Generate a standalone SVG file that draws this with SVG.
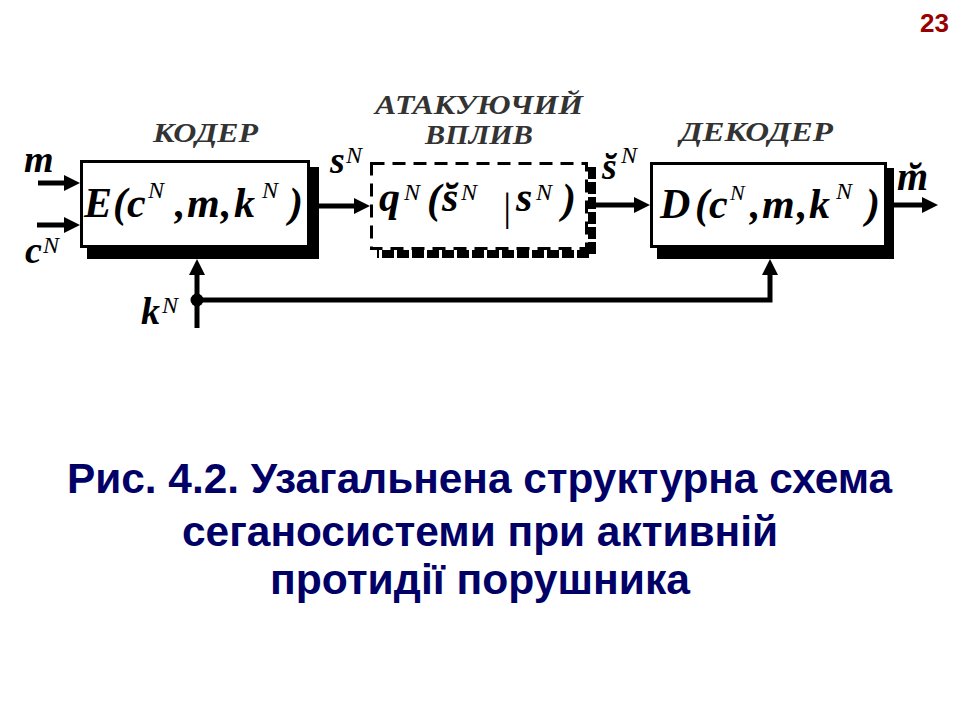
<svg xmlns="http://www.w3.org/2000/svg" width="960" height="720" viewBox="0 0 960 720">
<style>
.bg{fill:#fff}
.box{fill:#fff;stroke:#000;stroke-width:3}
.shadow{fill:#000}
.dbox{fill:#fff;stroke:#000;stroke-width:3;stroke-dasharray:13 8}
.dshadow{fill:none;stroke:#000;stroke-width:8;stroke-dasharray:12 3}
.wire{fill:none;stroke:#000;stroke-width:5}
.math{font-family:"Liberation Serif","Times New Roman",serif;font-style:italic;font-weight:bold;fill:#000}
.sup{font-family:"Liberation Serif","Times New Roman",serif;font-style:italic;font-weight:normal;fill:#000}
.blk{font-family:"Liberation Serif","Times New Roman",serif;font-style:italic;font-weight:bold;fill:#333;font-size:27px}
.title{font-family:"Liberation Sans",Arial,sans-serif;font-weight:bold;fill:#000066;font-size:42px}
.page{font-family:"Liberation Sans",Arial,sans-serif;font-weight:bold;fill:#990000;font-size:26px}
</style>
<defs>
<marker id="ah" markerUnits="userSpaceOnUse" markerWidth="16" markerHeight="16" refX="3" refY="8" orient="auto">
<path d="M0,0 L16,8 L0,16 z" fill="#000"/>
</marker>
</defs>
<rect class="bg" x="0" y="0" width="960" height="720"/>
<text class="page" x="949" y="32" text-anchor="end">23</text>

<g id="encoder">
<rect class="shadow" x="87" y="167" width="232" height="92"/>
<rect class="box" x="81.5" y="161.5" width="227" height="85"/>
<text class="blk" x="153" y="142" textLength="105" lengthAdjust="spacingAndGlyphs">КОДЕР</text>
<text class="math" font-size="42" y="217"><tspan x="84">E</tspan><tspan x="113">(</tspan><tspan x="127">c</tspan></text>
<text class="sup" font-size="24" x="148" y="198">N</text>
<text class="math" font-size="42" y="217"><tspan x="175">,</tspan><tspan x="187">m</tspan><tspan x="221">,</tspan><tspan x="234">k</tspan></text>
<text class="sup" font-size="24" x="262" y="198">N</text>
<text class="math" font-size="42" x="289" y="217">)</text>
</g>

<g id="attack">
<path class="dshadow" d="M592,167 L592,254 L377,254"/>
<rect class="dbox" x="371.5" y="163.5" width="215" height="85"/>
<text class="blk" x="375" y="114" textLength="208" lengthAdjust="spacingAndGlyphs">АТАКУЮЧИЙ</text>
<text class="blk" x="425" y="144" textLength="108" lengthAdjust="spacingAndGlyphs">ВПЛИВ</text>
<text class="math" font-size="42" x="379" y="211">q</text>
<text class="sup" font-size="24" x="404" y="200">N</text>
<text class="math" font-size="42" x="427" y="213">(</text>
<text class="math" font-size="42" x="442" y="211">s̆</text>
<text class="sup" font-size="24" x="461" y="200">N</text>
<text class="sup" font-size="40" x="501" y="220">|</text>
<text class="math" font-size="42" x="516" y="211">s</text>
<text class="sup" font-size="24" x="536" y="200">N</text>
<text class="math" font-size="42" x="562" y="213">)</text>
</g>

<g id="decoder">
<rect class="shadow" x="657" y="168" width="237" height="91"/>
<rect class="box" x="651.5" y="163.5" width="234" height="83"/>
<text class="blk" x="680" y="141" textLength="153" lengthAdjust="spacingAndGlyphs">ДЕКОДЕР</text>
<text class="math" font-size="42" y="218"><tspan x="660">D</tspan><tspan x="695">(</tspan><tspan x="709">c</tspan></text>
<text class="sup" font-size="22" x="730" y="200">N</text>
<text class="math" font-size="42" y="218"><tspan x="750">,</tspan><tspan x="762">m</tspan><tspan x="797">,</tspan><tspan x="809">k</tspan></text>
<text class="sup" font-size="24" x="836" y="199">N</text>
<text class="math" font-size="42" x="866" y="218">)</text>
</g>

<g id="connectors">
<line class="wire" x1="38" y1="183" x2="67" y2="183" marker-end="url(#ah)"/>
<line class="wire" x1="37" y1="225" x2="67" y2="225" marker-end="url(#ah)"/>
<line class="wire" x1="319" y1="206" x2="357" y2="206" marker-end="url(#ah)"/>
<line class="wire" x1="596" y1="205" x2="637" y2="205" marker-end="url(#ah)"/>
<line class="wire" x1="894" y1="205" x2="925" y2="205" marker-end="url(#ah)"/>
<line class="wire" x1="197" y1="328" x2="197" y2="272" marker-end="url(#ah)"/>
<polyline class="wire" points="197,300 770,300 770,272" marker-end="url(#ah)"/>
<circle cx="197" cy="300" r="6.5" fill="#000"/>
</g>

<g id="signal-labels">
<text class="math" font-size="38" x="24" y="172">m</text>
<text class="math" font-size="38" x="25" y="263">c</text>
<text class="sup" font-size="24" x="43" y="253">N</text>
<text class="math" font-size="38" x="330" y="173">s</text>
<text class="sup" font-size="24" x="346" y="163">N</text>
<text class="math" font-size="38" x="602" y="179">s̆</text>
<text class="sup" font-size="24" x="621" y="163">N</text>
<text class="math" font-size="40" x="897" y="190">m̆</text>
<text class="math" font-size="38" x="141" y="324">k</text>
<text class="sup" font-size="24" x="162" y="313">N</text>
</g>

<g id="caption">
<text class="title" x="67" y="493" textLength="825" lengthAdjust="spacingAndGlyphs">Рис. 4.2. Узагальнена структурна схема</text>
<text class="title" x="182" y="546" textLength="596" lengthAdjust="spacingAndGlyphs">сеганосистеми при активній</text>
<text class="title" x="270" y="594" textLength="420" lengthAdjust="spacingAndGlyphs">протидії порушника</text>
</g>
</svg>
